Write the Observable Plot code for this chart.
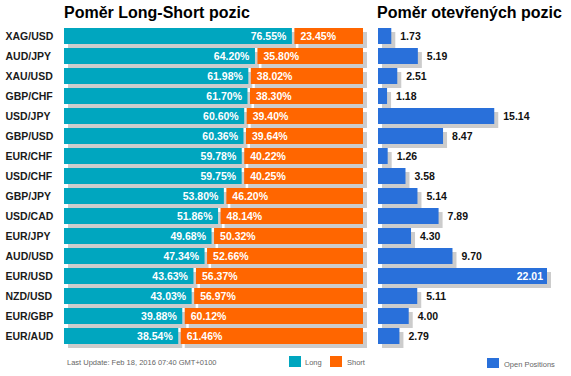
<!DOCTYPE html>
<html>
<head>
<meta charset="utf-8">
<script src="https://cdn.jsdelivr.net/npm/d3@7"></script>
<script src="https://cdn.jsdelivr.net/npm/@observablehq/plot@0.6"></script>
<style>
  body { margin: 0; background: #fff; font-family: "Liberation Sans", Arial, sans-serif; }
  #wrap { position: relative; width: 571px; height: 376px; overflow: hidden; }
  .abs { position: absolute; white-space: nowrap; }
  .title { font-size: 16px; font-weight: bold; line-height: 20px; color: #000; }
  .small { font-size: 7.5px; line-height: 10px; color: #666; }
  .sw { position: absolute; }
</style>
</head>
<body>
<div id="wrap">
  <div class="abs title" style="left:64px; top:3px;">Poměr Long-Short pozic</div>
  <div class="abs title" style="left:377px; top:3px;">Poměr otevřených pozic</div>
  <div id="left" class="abs" style="left:0; top:0;"></div>
  <div id="right" class="abs" style="left:370px; top:0;"></div>
  <div class="abs small" style="left:67px; top:358px;">Last Update: Feb 18, 2016 07:40 GMT+0100</div>
  <div class="sw" style="left:289px; top:356px; width:12px; height:11px; background:#00a6bf;"></div>
  <div class="abs small" style="left:305px; top:358px;">Long</div>
  <div class="sw" style="left:330px; top:356px; width:12px; height:11px; background:#ff6600;"></div>
  <div class="abs small" style="left:347px; top:358px;">Short</div>
  <div class="sw" style="left:487px; top:358px; width:12px; height:10px; background:#2970da;"></div>
  <div class="abs small" style="left:504px; top:360px;">Open Positions</div>
</div>
<script>
const pairs = ["XAG/USD","AUD/JPY","XAU/USD","GBP/CHF","USD/JPY","GBP/USD","EUR/CHF","USD/CHF","GBP/JPY","USD/CAD","EUR/JPY","AUD/USD","EUR/USD","NZD/USD","EUR/GBP","EUR/AUD"];
const longPct = [76.55,64.20,61.98,61.70,60.60,60.36,59.78,59.75,53.80,51.86,49.68,47.34,43.63,43.03,39.88,38.54];
const shortPct = [23.45,35.80,38.02,38.30,39.40,39.64,40.22,40.25,46.20,48.14,50.32,52.66,56.37,56.97,60.12,61.46];
const openPos = [1.73,5.19,2.51,1.18,15.14,8.47,1.26,3.58,5.14,7.89,4.30,9.70,22.01,5.11,4.00,2.79];

const TEAL = "#00a6bf", ORANGE = "#ff6600", BLUE = "#2970da", SHADOW = "#cccccc";

const rows = pairs.map((p, i) => ({
  pair: p, long: longPct[i], short: shortPct[i], total: longPct[i] + shortPct[i], open: openPos[i]
}));
const maxOpen = d3.max(openPos);
const font = {fontFamily: "Liberation Sans, Arial, sans-serif", background: "transparent"};

const left = Plot.plot({
  width: 375, height: 376,
  marginLeft: 64, marginRight: 12, marginTop: 24, marginBottom: 28,
  style: font,
  x: {domain: [0, 100], axis: null},
  y: {domain: pairs, padding: 0.2, axis: null},
  marks: [
    Plot.barX(rows, {x1: 0, x2: "long", y: "pair", fill: SHADOW, dx: 4, dy: 4, insetRight: 1}),
    Plot.barX(rows, {x1: "long", x2: "total", y: "pair", fill: SHADOW, dx: 4, dy: 4, insetLeft: 1.5}),
    Plot.barX(rows, {x1: 0, x2: "long", y: "pair", fill: TEAL, insetRight: 1}),
    Plot.barX(rows, {x1: "long", x2: "total", y: "pair", fill: ORANGE, insetLeft: 1.5}),
    Plot.text(rows, {x: "long", y: "pair", text: d => d.long.toFixed(2) + "%", dx: -7, textAnchor: "end",
      fill: "white", fontWeight: "bold", fontSize: 10.5}),
    Plot.text(rows, {x: "long", y: "pair", text: d => d.short.toFixed(2) + "%", dx: 7, textAnchor: "start",
      fill: "white", fontWeight: "bold", fontSize: 10.5}),
    Plot.text(rows, {x: 0, y: "pair", text: "pair", dx: -59, textAnchor: "start",
      fill: "#1a1a1a", fontWeight: "bold", fontSize: 10.5})
  ]
});
document.getElementById("left").appendChild(left);

const right = Plot.plot({
  width: 201, height: 376,
  marginLeft: 8, marginRight: 24, marginTop: 24, marginBottom: 28,
  style: font,
  x: {domain: [0, maxOpen], axis: null},
  y: {domain: pairs, padding: 0.2, axis: null},
  marks: [
    Plot.barX(rows, {x: "open", y: "pair", fill: SHADOW, dx: 4, dy: 4}),
    Plot.barX(rows, {x: "open", y: "pair", fill: BLUE}),
    Plot.text(rows.filter(d => d.open < maxOpen), {x: "open", y: "pair", text: d => d.open.toFixed(2),
      dx: 8.5, textAnchor: "start", fill: "#111", fontWeight: "bold", fontSize: 10.5}),
    Plot.text(rows.filter(d => d.open === maxOpen), {x: "open", y: "pair", text: d => d.open.toFixed(2),
      dx: -4.5, textAnchor: "end", fill: "white", fontWeight: "bold", fontSize: 10.5})
  ]
});
document.getElementById("right").appendChild(right);
</script>
</body>
</html>
